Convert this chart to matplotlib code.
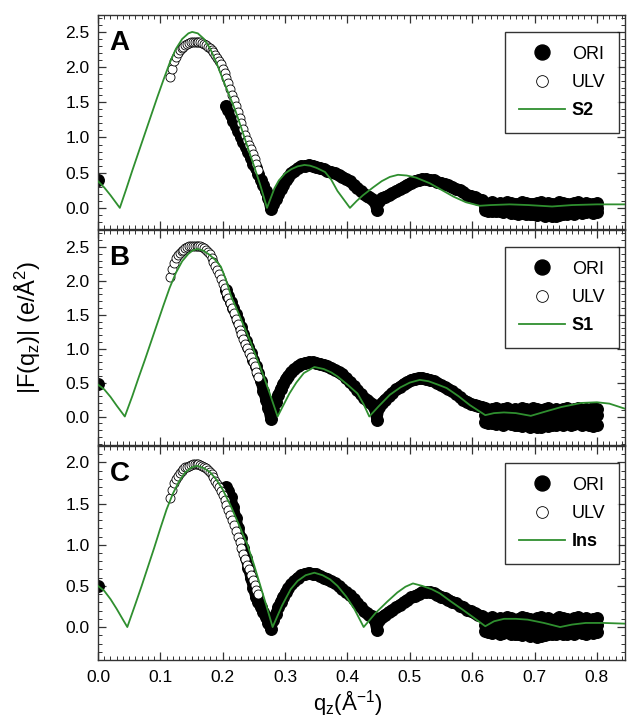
import numpy as np
import matplotlib
matplotlib.use("Agg")
import matplotlib.pyplot as plt
from matplotlib.ticker import MultipleLocator, FormatStrFormatter

plt.rcParams['font.family'] = ['Liberation Sans', 'DejaVu Sans']
plt.rcParams['mathtext.default'] = 'regular'

# ---- data ----
# ORI (filled circles): q grid of the continuous part
q_ori = [0.000,
         0.205, 0.209, 0.213, 0.217, 0.221, 0.225, 0.229, 0.233, 0.237, 0.241,
         0.245, 0.249, 0.253, 0.257, 0.261, 0.265, 0.269, 0.273, 0.277,
         0.281, 0.285, 0.289, 0.293, 0.297, 0.301, 0.305, 0.310, 0.315, 0.320,
         0.326, 0.332, 0.338, 0.344, 0.350, 0.356, 0.362, 0.368, 0.374, 0.380,
         0.386, 0.392, 0.398, 0.404, 0.410, 0.416, 0.421, 0.426, 0.431, 0.435,
         0.439, 0.443, 0.447, 0.451, 0.455, 0.460, 0.466, 0.472, 0.478, 0.484,
         0.490, 0.496, 0.502, 0.508, 0.514, 0.520, 0.526, 0.532, 0.538, 0.544,
         0.550, 0.556, 0.562, 0.568, 0.574, 0.580, 0.586, 0.592, 0.598, 0.604,
         0.610, 0.616]

ori_A = [0.40,
         1.45, 1.39, 1.32, 1.24, 1.17, 1.09, 1.01, 0.94, 0.86, 0.79,
         0.71, 0.63, 0.56, 0.48, 0.40, 0.32, 0.24, 0.14, -0.02,
         0.06, 0.13, 0.20, 0.27, 0.33, 0.39, 0.44, 0.49, 0.53, 0.56,
         0.59, 0.60, 0.61, 0.60, 0.58, 0.57, 0.55, 0.53, 0.51, 0.49,
         0.47, 0.44, 0.41, 0.38, 0.33, 0.28, 0.24, 0.20, 0.17, 0.15,
         0.13, 0.10, -0.03, 0.10, 0.14, 0.16, 0.18, 0.21, 0.24, 0.27,
         0.30, 0.33, 0.36, 0.38, 0.40, 0.41, 0.41, 0.40, 0.39, 0.37,
         0.36, 0.34, 0.32, 0.30, 0.27, 0.25, 0.22, 0.19, 0.17, 0.15,
         0.13, 0.11]

ori_B = [0.48,
         1.86, 1.78, 1.69, 1.60, 1.51, 1.42, 1.32, 1.22, 1.12, 1.03,
         0.93, 0.84, 0.74, 0.64, 0.53, 0.38, 0.25, 0.13, -0.04,
         0.10, 0.22, 0.32, 0.41, 0.48, 0.55, 0.60, 0.66, 0.70, 0.74,
         0.77, 0.79, 0.80, 0.80, 0.79, 0.78, 0.76, 0.74, 0.72, 0.69,
         0.66, 0.62, 0.57, 0.51, 0.45, 0.39, 0.33, 0.28, 0.24, 0.21,
         0.19, 0.14, -0.05, 0.14, 0.20, 0.25, 0.30, 0.35, 0.40, 0.44,
         0.48, 0.51, 0.54, 0.56, 0.57, 0.57, 0.56, 0.54, 0.52, 0.49,
         0.46, 0.43, 0.40, 0.37, 0.33, 0.29, 0.25, 0.22, 0.19, 0.17,
         0.15, 0.14]

ori_C = [0.50,
         1.70, 1.65, 1.58, 1.46, 1.33, 1.20, 1.08, 0.96, 0.84, 0.72,
         0.60, 0.48, 0.36, 0.30, 0.24, 0.18, 0.12, 0.05, -0.02,
         0.08, 0.16, 0.24, 0.31, 0.37, 0.42, 0.47, 0.52, 0.56, 0.60,
         0.63, 0.65, 0.66, 0.65, 0.64, 0.62, 0.60, 0.58, 0.56, 0.53,
         0.50, 0.46, 0.42, 0.39, 0.34, 0.29, 0.24, 0.20, 0.17, 0.15,
         0.13, 0.10, -0.04, 0.09, 0.12, 0.15, 0.18, 0.21, 0.24, 0.27,
         0.30, 0.33, 0.36, 0.38, 0.40, 0.42, 0.43, 0.42, 0.41, 0.39,
         0.37, 0.35, 0.33, 0.31, 0.29, 0.26, 0.24, 0.21, 0.19, 0.17,
         0.15, 0.13]

# ORI noisy tail: upper, middle and lower rows
q_band = [0.620, 0.626, 0.632, 0.638, 0.644, 0.650, 0.656, 0.662, 0.668, 0.674,
          0.680, 0.686, 0.692, 0.698, 0.704, 0.710, 0.716, 0.722, 0.728, 0.734,
          0.740, 0.746, 0.752, 0.758, 0.764, 0.770, 0.776, 0.782, 0.788, 0.794,
          0.800]
band_A_hi = [0.07, 0.06, 0.08, 0.05, 0.07, 0.06, 0.08, 0.07, 0.05, 0.06,
             0.08, 0.07, 0.06, 0.05, 0.07, 0.08, 0.06, 0.07, 0.05, 0.06,
             0.08, 0.07, 0.06, 0.05, 0.07, 0.09, 0.06, 0.07, 0.05, 0.06, 0.07]
band_A_mid = [0.01, 0.00, 0.02, -0.01, 0.01, 0.00, -0.01, 0.01, 0.00, -0.02,
              0.00, 0.01, -0.01, 0.00, -0.02, 0.00, -0.01, -0.02, 0.00, -0.01,
              0.01, 0.00, -0.01, 0.01, 0.00, -0.01, 0.01, 0.00, -0.01, 0.01, 0.00]
band_A_lo = [-0.03, -0.04, -0.05, -0.04, -0.05, -0.06, -0.05, -0.07, -0.07, -0.08,
             -0.07, -0.08, -0.09, -0.08, -0.10, -0.09, -0.11, -0.10, -0.12, -0.11,
             -0.10, -0.09, -0.08, -0.07, -0.08, -0.06, -0.07, -0.06, -0.05, -0.07, -0.06]
band_B_hi = [0.12, 0.10, 0.11, 0.13, 0.10, 0.11, 0.12, 0.10, 0.11, 0.09,
             0.12, 0.11, 0.10, 0.12, 0.11, 0.09, 0.11, 0.12, 0.10, 0.11,
             0.09, 0.11, 0.12, 0.10, 0.11, 0.12, 0.10, 0.11, 0.09, 0.12, 0.11]
band_B_mid = [0.02, 0.00, 0.03, -0.01, 0.01, 0.02, -0.02, 0.00, 0.01, -0.01,
              0.02, -0.02, 0.00, 0.01, -0.03, 0.00, 0.02, -0.01, 0.01, 0.00,
              -0.02, 0.01, 0.00, 0.02, -0.01, 0.01, 0.00, -0.02, 0.01, 0.00, 0.02]
band_B_lo = [-0.08, -0.10, -0.09, -0.11, -0.10, -0.12, -0.10, -0.11, -0.13, -0.12,
             -0.14, -0.13, -0.15, -0.14, -0.16, -0.15, -0.13, -0.14, -0.12, -0.13,
             -0.11, -0.12, -0.10, -0.12, -0.11, -0.10, -0.12, -0.11, -0.13, -0.14, -0.12]
band_C_hi = [0.11, 0.10, 0.12, 0.09, 0.11, 0.10, 0.12, 0.11, 0.09, 0.10,
             0.12, 0.11, 0.10, 0.09, 0.11, 0.12, 0.10, 0.11, 0.09, 0.10,
             0.12, 0.11, 0.10, 0.09, 0.11, 0.12, 0.10, 0.11, 0.09, 0.10, 0.11]
band_C_mid = [0.03, 0.02, 0.04, 0.01, 0.03, 0.02, 0.01, 0.03, 0.00, 0.02,
              0.01, 0.03, 0.00, 0.02, 0.01, -0.01, 0.02, 0.00, 0.01, 0.03,
              0.01, 0.02, 0.00, 0.02, 0.01, 0.03, 0.02, 0.00, 0.02, 0.01, 0.03]
band_C_lo = [-0.05, -0.06, -0.07, -0.06, -0.08, -0.07, -0.06, -0.08, -0.09, -0.08,
             -0.10, -0.09, -0.11, -0.10, -0.12, -0.11, -0.10, -0.09, -0.08, -0.09,
             -0.07, -0.08, -0.09, -0.07, -0.08, -0.06, -0.07, -0.08, -0.06, -0.07, -0.06]

# ULV (open circles)
q_ulv = [0.116, 0.119, 0.122, 0.125, 0.128, 0.131, 0.134, 0.137, 0.140, 0.143,
         0.146, 0.149, 0.152, 0.155, 0.158, 0.161, 0.164, 0.167, 0.170, 0.173,
         0.176, 0.179, 0.182, 0.185, 0.188, 0.191, 0.194, 0.197, 0.200, 0.203,
         0.206, 0.209, 0.212, 0.215, 0.218, 0.221, 0.224, 0.227, 0.230, 0.233,
         0.236, 0.239, 0.242, 0.245, 0.248, 0.251, 0.254, 0.257]
ulv_A = [1.86, 1.97, 2.08, 2.15, 2.20, 2.24, 2.27, 2.29, 2.31, 2.33,
         2.34, 2.35, 2.36, 2.36, 2.36, 2.36, 2.35, 2.34, 2.33, 2.31,
         2.29, 2.27, 2.24, 2.21, 2.17, 2.13, 2.09, 2.04, 1.98, 1.91,
         1.84, 1.77, 1.69, 1.61, 1.53, 1.45, 1.36, 1.28, 1.20, 1.12,
         1.04, 0.97, 0.90, 0.83, 0.77, 0.70, 0.62, 0.54]
ulv_B = [2.06, 2.17, 2.27, 2.33, 2.38, 2.41, 2.44, 2.46, 2.48, 2.50,
         2.51, 2.52, 2.52, 2.52, 2.52, 2.52, 2.51, 2.50, 2.48, 2.46,
         2.43, 2.39, 2.34, 2.28, 2.22, 2.16, 2.10, 2.03, 1.96, 1.89,
         1.82, 1.75, 1.67, 1.60, 1.52, 1.44, 1.36, 1.28, 1.21, 1.14,
         1.07, 1.01, 0.94, 0.88, 0.81, 0.74, 0.66, 0.58]
ulv_C = [1.57, 1.67, 1.75, 1.80, 1.84, 1.87, 1.90, 1.92, 1.94, 1.95,
         1.96, 1.97, 1.98, 1.98, 1.98, 1.98, 1.97, 1.96, 1.95, 1.93,
         1.91, 1.89, 1.86, 1.82, 1.78, 1.74, 1.70, 1.65, 1.60, 1.54,
         1.48, 1.42, 1.36, 1.30, 1.24, 1.17, 1.10, 1.03, 0.96, 0.89,
         0.83, 0.76, 0.70, 0.63, 0.57, 0.51, 0.45, 0.40]

# model curves (green)
q_S2 = [0.000, 0.010, 0.020, 0.030, 0.035, 0.045, 0.055, 0.065, 0.075, 0.085,
        0.095, 0.105, 0.115, 0.125, 0.135, 0.145, 0.151, 0.160, 0.170, 0.180,
        0.190, 0.200, 0.210, 0.220, 0.230, 0.240, 0.250, 0.260, 0.271, 0.283,
        0.290, 0.300, 0.310, 0.320, 0.331, 0.340, 0.350, 0.364, 0.374, 0.384,
        0.394, 0.404, 0.415, 0.425, 0.441, 0.455, 0.468, 0.481, 0.495, 0.510,
        0.532, 0.550, 0.570, 0.590, 0.612, 0.630, 0.660, 0.690, 0.728, 0.760,
        0.800, 0.850]
F_S2 = [0.38, 0.29, 0.18, 0.06, 0.00, 0.26, 0.53, 0.79, 1.05, 1.31,
        1.57, 1.82, 2.06, 2.26, 2.40, 2.48, 2.50, 2.48, 2.40, 2.26,
        2.06, 1.83, 1.61, 1.39, 1.13, 0.86, 0.60, 0.33, 0.00, 0.28,
        0.39, 0.49, 0.55, 0.59, 0.61, 0.60, 0.57, 0.51, 0.40, 0.24,
        0.12, 0.00, 0.10, 0.18, 0.29, 0.38, 0.44, 0.47, 0.46, 0.43,
        0.35, 0.26, 0.16, 0.08, 0.03, 0.04, 0.05, 0.04, 0.02, 0.04,
        0.05, 0.05]

q_S1 = [0.000, 0.010, 0.020, 0.030, 0.043, 0.055, 0.065, 0.075, 0.085, 0.095,
        0.105, 0.115, 0.125, 0.135, 0.145, 0.152, 0.159, 0.168, 0.178, 0.188,
        0.197, 0.205, 0.214, 0.225, 0.235, 0.245, 0.255, 0.265, 0.275, 0.288,
        0.298, 0.307, 0.318, 0.330, 0.347, 0.362, 0.374, 0.384, 0.400, 0.416,
        0.426, 0.435, 0.450, 0.468, 0.485, 0.500, 0.516, 0.530, 0.545, 0.559,
        0.578, 0.596, 0.621, 0.635, 0.651, 0.670, 0.694, 0.720, 0.743, 0.775,
        0.800, 0.820, 0.850]
F_S1 = [0.47, 0.40, 0.29, 0.16, 0.00, 0.30, 0.57, 0.83, 1.10, 1.37,
        1.64, 1.90, 2.12, 2.29, 2.40, 2.45, 2.47, 2.45, 2.39, 2.31,
        2.21, 2.02, 1.76, 1.53, 1.31, 1.09, 0.85, 0.61, 0.35, 0.00,
        0.18, 0.34, 0.50, 0.64, 0.73, 0.70, 0.65, 0.59, 0.47, 0.34,
        0.18, 0.00, 0.15, 0.32, 0.43, 0.50, 0.54, 0.52, 0.47, 0.42,
        0.30, 0.17, 0.02, 0.05, 0.06, 0.05, 0.01, 0.08, 0.14, 0.20,
        0.21, 0.19, 0.10]

q_Ins = [0.000, 0.010, 0.020, 0.030, 0.040, 0.047, 0.060, 0.070, 0.080, 0.090,
         0.100, 0.110, 0.120, 0.130, 0.140, 0.150, 0.159, 0.170, 0.180, 0.190,
         0.200, 0.213, 0.225, 0.240, 0.250, 0.262, 0.270, 0.280, 0.295, 0.309,
         0.320, 0.333, 0.347, 0.360, 0.372, 0.384, 0.398, 0.411, 0.426, 0.445,
         0.464, 0.480, 0.493, 0.505, 0.520, 0.535, 0.548, 0.566, 0.585, 0.605,
         0.621, 0.635, 0.651, 0.670, 0.689, 0.715, 0.741, 0.760, 0.782, 0.810,
         0.850]
F_Ins = [0.50, 0.44, 0.34, 0.22, 0.09, 0.00, 0.28, 0.50, 0.73, 0.96,
         1.20, 1.43, 1.62, 1.77, 1.88, 1.94, 1.96, 1.93, 1.88, 1.79,
         1.67, 1.47, 1.26, 0.99, 0.76, 0.46, 0.26, 0.00, 0.26, 0.46,
         0.56, 0.63, 0.66, 0.63, 0.58, 0.50, 0.37, 0.22, 0.00, 0.17,
         0.31, 0.42, 0.49, 0.53, 0.50, 0.46, 0.41, 0.31, 0.21, 0.10,
         0.01, 0.07, 0.10, 0.10, 0.09, 0.05, 0.00, 0.03, 0.05, 0.05,
         0.04]

panels = [
    ("A", "S2", ori_A, [band_A_hi, band_A_mid, band_A_lo], ulv_A, q_S2, F_S2, (-0.30, 2.74)),
    ("B", "S1", ori_B, [band_B_hi, band_B_mid, band_B_lo], ulv_B, q_S1, F_S1, (-0.42, 2.75)),
    ("C", "Ins", ori_C, [band_C_hi, band_C_mid, band_C_lo], ulv_C, q_Ins, F_Ins, (-0.40, 2.20)),
]

green = '#2f8f2f'
ms_ori = 8.3

fig = plt.figure(figsize=(6.29, 7.19), dpi=100)
boxes = [[0.1558, 0.6815, 0.8378, 0.2976],
         [0.1558, 0.3811, 0.8378, 0.2990],
         [0.1558, 0.0821, 0.8378, 0.2976]]

for i, (letter, model, ori, band, ulv, qm, Fm, ylim) in enumerate(panels):
    ax = fig.add_axes(boxes[i])
    # dense ORI points: thick trace behind the markers so they read as one band
    ax.plot(q_ori[1:], ori[1:], '-', color='black', lw=ms_ori - 0.5,
            solid_joinstyle='round', solid_capstyle='round', zorder=2)
    q_all = q_ori + q_band * 3
    F_all = ori + band[0] + band[1] + band[2]
    ax.plot(q_all, F_all, 'o', color='black', ms=ms_ori, mec='black', label='ORI', zorder=2)
    ax.plot(q_ulv, ulv, 'o', mfc='white', mec='black', mew=0.6, ms=6.5, label='ULV', zorder=3)
    ax.plot(qm, Fm, '-', color=green, lw=1.3, label=model, zorder=4)

    ax.set_xlim(0.0, 0.845)
    ax.set_ylim(*ylim)
    ax.xaxis.set_major_locator(MultipleLocator(0.1))
    ax.xaxis.set_minor_locator(MultipleLocator(0.01))
    ax.yaxis.set_major_locator(MultipleLocator(0.5))
    ax.yaxis.set_minor_locator(MultipleLocator(0.1))
    ax.xaxis.set_major_formatter(FormatStrFormatter('%.1f'))
    ax.yaxis.set_major_formatter(FormatStrFormatter('%.1f'))
    ax.tick_params(which='both', direction='in', top=True, right=True, labelsize=12.5, color='#333333')
    ax.tick_params(which='major', length=6, width=0.9)
    ax.tick_params(which='minor', length=3, width=0.7)
    ax.tick_params(axis='x', which='major', pad=7)
    ax.tick_params(axis='y', which='major', pad=6)
    for sp in ax.spines.values():
        sp.set_linewidth(1.0)
        sp.set_color('#333333')
    if i < 2:
        ax.tick_params(labelbottom=False)

    ax.text(0.022, 0.93, letter, transform=ax.transAxes, fontsize=20, fontweight='bold', va='top', ha='left')

    leg = ax.legend(loc='upper right', bbox_to_anchor=(0.9886, 0.92), borderaxespad=0,
                    fontsize=13, frameon=True, fancybox=False, edgecolor='black',
                    markerscale=1.3, handlelength=2.6, labelspacing=0.62,
                    borderpad=0.75, handletextpad=0.35)
    leg.get_frame().set_linewidth(1.0)
    leg.get_texts()[2].set_fontweight('bold')

fig.text(0.045, 0.544, '|F(q$_z$)| (e/Å$^2$)', rotation=90, ha='center', va='center', fontsize=17)
fig.text(0.553, 0.001, 'q$_z$(Å$^{-1}$)', ha='center', va='bottom', fontsize=16)

fig.savefig('out.png', dpi=100)
